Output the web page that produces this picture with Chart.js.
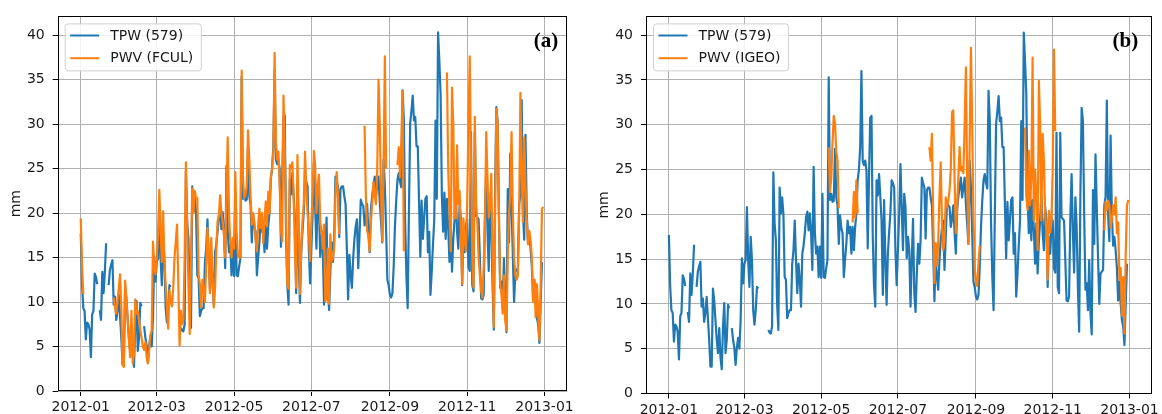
<!DOCTYPE html>
<html><head><meta charset="utf-8">
<script src="https://cdn.jsdelivr.net/npm/chart.js@4"></script>
<style>
html,body{margin:0;padding:0;background:#fff;}
#wrap{position:relative;width:1162px;height:414px;overflow:hidden;background:#fff;}
canvas{position:absolute;top:0;}
</style></head><body>
<div id="wrap">
<canvas id="ca" width="580" height="414" style="left:0;width:580px;height:414px"></canvas>
<canvas id="cb" width="572" height="414" style="left:590px;width:572px;height:414px"></canvas>
</div>
<script>
// ---------------- data ----------------
const startDate = '2012-01-01';
const xTickLabels = ['2012-01','2012-03','2012-05','2012-07','2012-09','2012-11','2013-01'];
const yTicks = [0,5,10,15,20,25,30,35,40];
const gap = n => Array(n).fill(null);

// TPW (579), one value per day from 2012-01-01
const tpwValues = [
17.7,12.0,9.3,9.0,5.8,7.7,7.5,6.9,3.8,8.6,
9.0,13.2,12.8,12.0,null,9.1,8.0,13.4,11.0,13.4,
16.6,null,11.9,13.6,14.2,14.7,9.7,10.6,8.0,9.0,
10.8,8.4,6.0,3.0,3.0,11.7,10.4,8.2,6.0,4.5,
7.3,4.0,2.7,7.5,10.1,4.5,6.0,9.9,9.5,null,
7.3,6.0,5.1,3.2,5.1,6.2,5.0,8.2,15.1,12.3,
14.5,14.9,20.8,14.9,11.9,17.5,14.9,9.3,7.7,9.3,
11.9,11.7,null,null,null,null,null,null,null,7.1,
6.8,6.7,7.5,24.7,19.0,17.1,10.0,7.1,23.0,20.1,
21.9,20.0,13.0,12.7,8.4,9.0,9.3,9.3,14.5,16.0,
19.3,14.9,11.2,14.5,12.7,9.7,15.6,16.5,17.9,19.7,
20.3,18.2,20.1,17.9,13.8,25.3,17.9,15.6,16.4,13.0,
16.4,12.9,22.3,13.0,12.9,14.0,14.9,35.3,21.6,22.3,
21.4,21.5,27.3,21.9,21.0,16.7,19.9,18.5,17.9,13.0,
15.0,16.7,19.3,17.9,18.6,15.6,18.6,16.0,18.6,20.1,
23.8,25.0,27.5,36.0,26.0,25.5,26.0,24.9,16.2,24.0,
30.8,31.0,17.5,12.0,9.7,23.8,22.1,24.5,22.0,19.3,
11.0,21.6,15.0,9.9,15.6,18.0,20.1,23.8,23.5,23.0,
16.0,12.1,16.0,20.1,25.6,20.8,16.0,22.3,20.8,15.1,
17.5,16.0,9.7,15.0,19.5,11.2,9.1,13.4,16.7,14.5,
17.1,24.1,23.5,23.0,17.3,22.7,23.0,23.0,21.9,21.0,
16.0,10.3,15.3,13.0,11.6,14.9,17.1,18.5,19.3,13.8,
17.5,21.5,21.0,20.8,18.6,19.5,21.0,18.0,15.6,20.4,
22.0,23.0,24.1,21.9,23.0,24.1,21.2,19.0,16.7,26.0,
23.0,18.0,12.5,11.9,10.8,10.5,11.0,14.1,18.6,21.5,
23.8,24.5,23.5,22.9,33.8,30.4,19.0,13.0,9.3,20.0,
30.1,31.5,33.2,30.4,30.8,27.5,27.5,21.2,15.1,21.4,
17.1,19.3,21.6,21.9,15.6,17.9,10.8,13.4,16.5,19.3,
30.4,21.6,40.3,37.1,33.4,22.0,17.9,22.3,17.1,21.6,
18.4,14.5,19.0,13.4,17.0,19.3,22.3,17.9,16.0,20.8,
19.5,11.9,17.5,15.6,18.6,19.3,14.0,13.5,29.1,11.9,
11.2,29.1,19.7,19.5,19.3,14.9,10.4,10.3,10.8,19.7,
24.5,18.2,13.5,21.9,18.6,11.9,6.9,22.3,31.9,30.4,
20.0,11.6,12.3,9.3,14.9,9.0,6.6,22.7,16.7,26.7,
20.8,15.3,10.0,13.4,13.6,13.8,21.0,22.0,32.7,20.0,
17.0,28.8,20.0,16.5,17.5,16.0,14.0,10.4,12.5,10.0,
8.2,7.5,5.4,10.0,14.5
];

// PWV (FCUL), one value per day from 2012-01-01
const fculValues = [
19.4,14.0,10.9, ...gap(23),
10.5,9.5,8.7,10.1,11.5,13.1,9.4,2.9,2.7,12.4,
10.5,8.0,5.7,3.8,9.0,3.1,4.2,10.3,8.7,9.0,
7.9,6.8,6.0,5.0,4.6,5.5,3.8,3.1,4.6,6.4,
6.8,16.8,14.0,13.1,15.0,17.5,22.6,18.3,14.5,20.2,
14.6,12.0,9.4,7.0,11.3,10.0,9.5,11.6,15.0,16.8,
18.7,12.0,5.1,9.0,7.5,8.0,15.0,25.7,18.0,12.0,
6.4,15.0,22.8,20.0,22.5,21.7,21.7,13.1,12.0,9.4,
12.5,11.3,10.0,14.0,18.3,15.0,11.0,17.2,13.0,9.4,
11.5,16.0,19.1,19.6,22.0,20.0,19.0,17.5,15.0,22.0,
28.5,20.0,16.8,15.0,17.2,16.0,24.6,18.0,15.3,15.0,
15.0,36.0,24.0,21.7,22.0,23.0,29.3,26.0,22.0,18.7,
20.0,19.0,17.0,15.7,18.5,20.5,18.3,20.0,16.6,19.1,
21.3,18.5,22.4,20.0,24.0,25.0,26.9,38.0,28.0,26.0,
26.9,23.0,18.0,16.8,33.2,27.0,20.0,12.0,11.5,25.4,
25.0,25.7,22.0,16.0,11.6,26.5,20.0,10.9,16.0,19.0,
21.0,26.9,22.8,20.0,18.0,14.6,19.0,22.0,27.0,25.4,
20.0,23.0,24.3,19.0,17.9,16.0,18.7,10.1,10.5,16.0,
9.8,17.6,14.6,15.0,16.0,22.0,24.6,22.0,17.6,
...gap(19),
29.8,22.0,18.0,17.5,15.7,19.0,21.0,23.5,22.0,21.0,
25.0,35.0,30.0,22.0,16.8,25.0,37.6,25.0,
...gap(8),
25.4,27.4,24.0,28.0,33.7,15.7,
...gap(33),
35.8,25.0,20.0,15.7,34.1,30.0,19.4,19.4,27.6,21.0,
22.5,18.0,12.0,19.4,17.0,15.7,21.0,30.0,37.6,25.0,
15.0,11.6,30.8,21.0,19.0,15.0,13.0,11.3,10.5,14.0,
19.0,29.1,24.0,19.5,21.0,24.4,15.0,7.2,20.0,31.7,
30.0,20.0,12.0,11.0,8.7,13.0,8.0,6.8,15.0,20.0,
22.0,29.1,20.0,15.0,13.0,12.5,13.0,20.0,33.5,25.0,
19.0,28.5,23.0,19.0,16.5,18.0,17.0,15.0,10.0,12.5,
8.3,12.0,9.0,5.7,12.0,20.5,20.7
];

// PWV (IGEO), one value per day from 2012-05-07
const igeoStart = '2012-05-07';
const igeoValues = [
27.5,22.5,24.0,28.0,31.0,30.2,27.0,26.0,20.7,
...gap(10),
19.1,22.5,19.6,23.8,20.1,
...gap(56),
27.5,26.0,29.0,20.0,12.3,16.8,14.3,17.0,22.0,25.8,
19.0,16.0,17.0,21.9,20.8,21.5,22.7,25.0,31.4,31.6,
24.0,17.9,21.0,24.0,27.5,24.9,25.3,24.6,30.0,36.4,
24.0,16.7,28.0,38.6,30.0,20.0,14.0,12.3,12.0,14.5,16.5,
...gap(35),
29.7,22.0,20.5,27.1,21.0,24.0,37.5,19.3,25.0,22.0,
16.0,34.9,30.0,19.3,29.0,26.0,20.0,18.0,12.7,20.4,
18.0,19.3,25.0,38.4,29.3,
...gap(38),
18.2,21.4,20.5,21.5,21.0,18.5,19.5,21.0,20.0,21.9,
17.9,19.1,12.7,14.0,8.7,13.0,6.7,15.6,21.0,21.6
];

// ---------------- helpers ----------------
const DAY = 864e5;
const t0 = Date.parse(startDate + 'T00:00:00Z');
const dayOf = s => (Date.parse((s.length === 7 ? s + '-01' : s) + 'T00:00:00Z') - t0) / DAY;
const xTickDays = xTickLabels.map(dayOf);
const toXY = (vals, start) => { const d0 = dayOf(start); return vals.map((v, i) => ({x: d0 + i, y: v})); };

const BLUE = '#1f77b4', ORANGE = '#ff7f0e';
const FONT = '"DejaVu Sans", sans-serif';
const TXT = '#1a1a1a';

function overlayPlugin(opts) {
  return {
    id: 'overlay' + opts.panel,
    afterDraw(chart) {
      const ctx = chart.ctx, ca = chart.chartArea;
      ctx.save();
      // frame (all four spines)
      ctx.strokeStyle = '#000'; ctx.lineWidth = 1;
      const L = Math.round(ca.left) + 0.5, T = Math.round(ca.top) + 0.5;
      const R = Math.round(ca.right) - 0.5, B = Math.round(ca.bottom) - 0.5;
      ctx.strokeRect(L, T, R - L, B - T);
      // legend
      ctx.font = '14px ' + FONT;
      const labels = chart.data.datasets.map(d => d.label);
      const colors = chart.data.datasets.map(d => d.borderColor);
      const tw = Math.max(...labels.map(l => ctx.measureText(l).width));
      const x0 = ca.left + 7.5, y0 = ca.top + 7.5, w = 45 + tw + 8, h = 47;
      ctx.beginPath();
      if (ctx.roundRect) ctx.roundRect(x0, y0, w, h, 3); else ctx.rect(x0, y0, w, h);
      ctx.fillStyle = 'rgba(255,255,255,0.85)'; ctx.fill();
      ctx.strokeStyle = '#d0d0d0'; ctx.lineWidth = 1; ctx.stroke();
      labels.forEach((lab, i) => {
        const yy = y0 + 11.6 + i * 22.7;
        ctx.strokeStyle = colors[i]; ctx.lineWidth = 2;
        ctx.beginPath(); ctx.moveTo(x0 + 5, yy); ctx.lineTo(x0 + 34, yy); ctx.stroke();
        ctx.fillStyle = TXT; ctx.textAlign = 'left'; ctx.textBaseline = 'middle';
        ctx.fillText(lab, x0 + 45, yy + 0.5);
      });
      // panel label
      ctx.font = 'bold 21px "Liberation Serif", "DejaVu Serif", serif';
      ctx.fillStyle = '#000'; ctx.textAlign = 'right'; ctx.textBaseline = 'middle';
      ctx.fillText(opts.panel, ca.right - opts.labelInset, ca.top + opts.labelDown);
      ctx.restore();
    }
  };
}

function makeChart(id, label2, data2, box) {
  const tickFont = {family: FONT, size: 14};
  return new Chart(document.getElementById(id), {
    type: 'line',
    data: {datasets: [
      {label: 'TPW (579)', data: toXY(tpwValues, startDate), borderColor: BLUE, backgroundColor: BLUE,
       borderWidth: 2.2, pointRadius: 0, tension: 0, spanGaps: false, borderJoinStyle: 'round', order: 2},
      {label: label2, data: data2, borderColor: ORANGE, backgroundColor: ORANGE,
       borderWidth: 2.2, pointRadius: 0, tension: 0, spanGaps: false, borderJoinStyle: 'round', order: 1}
    ]},
    options: {
      responsive: false, animation: false, events: [],
      layout: {autoPadding: false, padding: {left: 0, top: box.top, right: box.right, bottom: 0}},
      plugins: {legend: {display: false}, tooltip: {enabled: false}},
      scales: {
        x: {
          type: 'linear', min: -18.2, max: 384,
          afterBuildTicks: s => { s.ticks = xTickDays.map(v => ({value: v})); },
          afterFit: s => { s.height = box.xh; },
          ticks: {callback: (v, i) => xTickLabels[i], font: tickFont, color: TXT, padding: 3,
                  maxRotation: 0, minRotation: 0, autoSkip: false},
          grid: {color: '#b0b0b0', lineWidth: 1, tickColor: '#000', tickLength: 5, drawTicks: true},
          border: {display: false}
        },
        y: {
          type: 'linear', min: 0, max: 42.1,
          afterBuildTicks: s => { s.ticks = yTicks.map(v => ({value: v})); },
          afterFit: s => { s.width = box.yw; },
          ticks: {callback: v => String(v), font: tickFont, color: TXT, padding: 8},
          title: {display: true, text: 'mm', font: tickFont, color: TXT, padding: {top: box.tp, bottom: 0}},
          grid: {color: '#b0b0b0', lineWidth: 1, tickColor: '#000', tickLength: 5, drawTicks: true},
          border: {display: false}
        }
      }
    },
    plugins: [overlayPlugin({panel: box.panel, labelInset: box.li, labelDown: box.ld})]
  });
}

makeChart('ca', 'PWV (FCUL)', toXY(fculValues, startDate),
  {top: 13.3, right: 12.7, xh: 23, yw: 57.7, tp: 7.8, panel: '(a)', li: 9, ld: 25});
makeChart('cb', 'PWV (IGEO)', toXY(igeoValues, igeoStart),
  {top: 15.3, right: 6, xh: 20.5, yw: 56, tp: 6.3, panel: '(b)', li: 14, ld: 25.5});
</script>
</body></html>
